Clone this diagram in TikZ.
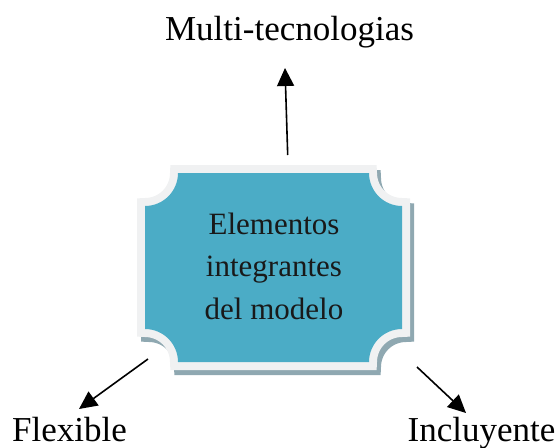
\documentclass[tikz,border=0pt]{standalone}
\usepackage{fontspec}
\setmainfont{Liberation Serif}
\usetikzlibrary{arrows.meta}
\definecolor{plaqueteal}{HTML}{4BACC6}
\definecolor{plaqueborder}{HTML}{F0F1F2}
\definecolor{plaqueshadow}{HTML}{8FA8B1}
\newcommand\plaquepath[5]{(#1+#5,#2) -- (#3-#5,#2) arc[start angle=180,end angle=90,radius=#5] -- (#3,#4-#5) arc[start angle=270,end angle=180,radius=#5] -- (#1+#5,#4) arc[start angle=0,end angle=-90,radius=#5] -- (#1,#2+#5) arc[start angle=90,end angle=0,radius=#5] -- cycle}
\tikzset{
  arr/.style={line width=1.6pt, -{Triangle[length=18pt,width=17pt]}},
  lab/.style={font=\fontsize{35}{40}\selectfont, anchor=base, inner sep=0pt},
  centertext/.style={font=\fontsize{31}{42.5}\selectfont, align=center, inner sep=0pt, text=black!90}
}
\begin{document}
\begin{tikzpicture}[x=1pt,y=-1pt]
\useasboundingbox (0,0) rectangle (558,448);
% shadow
\begin{scope}[shift={(4,5)}]
  \draw[plaqueshadow, line width=16pt, line join=miter, fill=plaqueshadow] \plaquepath{145}{173}{402}{362}{33};
\end{scope}
% border
\draw[plaqueborder, line width=16pt, line join=miter] \plaquepath{145}{173}{402}{362}{33};
% teal face
\fill[plaqueteal] \plaquepath{145}{173}{402}{362}{33};
\node[centertext] (plaque) at (274,266) {Elementos\\integrantes\\del modelo};
% labels
\node[lab] (multi) at (289.5,40) {Multi-tecnologias};
\node[lab] (flex) at (69.5,441) {Flexible};
\node[lab] (incl) at (481.5,441) {Incluyente};
% connectors
\coordinate (s1) at (287.7,155);
\coordinate (t1) at (285,68);
\coordinate (s2) at (148,359);
\coordinate (t2) at (79,409);
\coordinate (s3) at (417,367);
\coordinate (t3) at (466,413);
\draw[arr] (s1) -- (t1);
\draw[arr] (s2) -- (t2);
\draw[arr] (s3) -- (t3);
\end{tikzpicture}
\end{document}
